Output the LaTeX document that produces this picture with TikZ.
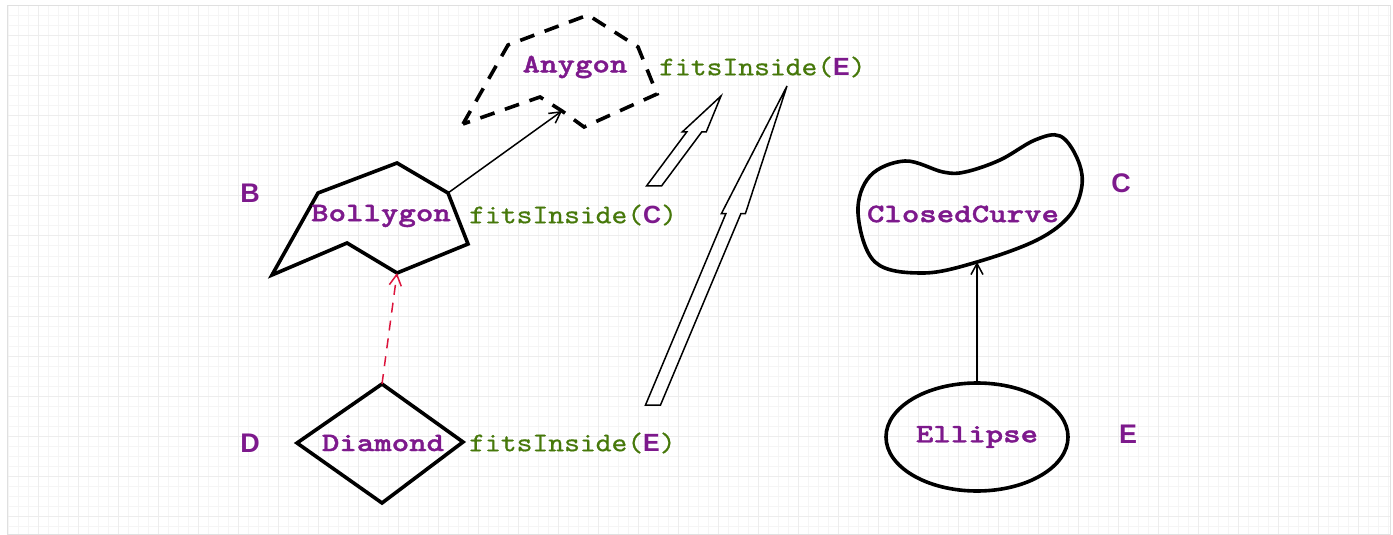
\documentclass[tikz,border=0pt]{standalone}
\usepackage{fontspec}
\usetikzlibrary{arrows.meta,calc,shapes.geometric}
\newfontfamily\labfont[FakeStretch=1.25,FakeBold=1.5]{lmmonolt10-bold.otf}
\newfontfamily\fitfont[FakeStretch=1.12,FakeBold=0.6]{lmmono10-regular.otf}
\newfontfamily\sansfont{Liberation Sans}
\definecolor{purp}{RGB}{125,25,140}
\definecolor{grn}{RGB}{70,120,10}
\definecolor{crim}{RGB}{220,20,60}
\newcommand\fitsin[1]{fitsInside({\sansfont\bfseries\fontsize{25}{28}\selectfont\color{purp}#1})}
\newcommand\hollowarr[2]{%
  \draw[hollowst] ($(#1)+(-7.5,0)$) -- ($(#1)!0.6!(#2)+(-7.5,0)$) -- ($(#1)!0.6!(#2)+(-12,0)$) -- (#2)
    -- ($(#1)!0.6!(#2)+(12,0)$) -- ($(#1)!0.6!(#2)+(7.5,0)$) -- ($(#1)+(7.5,0)$) -- cycle;}
\tikzset{
  gridminor/.style={line width=1bp, black!4},
  gridmajor/.style={line width=1bp, black!7},
  lab/.style={text=purp, font=\labfont\fontsize{26.7}{30}\selectfont, inner sep=0},
  fitlab/.style={text=grn, font=\fitfont\fontsize{27}{30}\selectfont, inner sep=0, anchor=west},
  letter/.style={text=purp, font=\sansfont\bfseries\fontsize{27}{30}\selectfont, inner sep=0},
  shapeline/.style={line width=3.6bp, black},
  conn/.style={line width=1.5bp, black, -{Straight Barb[length=11bp,width=12bp]}},
  redconn/.style={line width=1.5bp, crim, dash pattern=on 10bp off 8bp, -{Straight Barb[length=11bp,width=12bp]}},
  hollowst/.style={line width=1.5bp, black, line join=miter},
}
\begin{document}
\begin{tikzpicture}[x=1bp,y=-1bp]
\useasboundingbox (0,0) rectangle (1393,535);
% background grid
\foreach \x in {8,18,...,1388} \draw[gridminor] (\x,6) -- (\x,534);
\foreach \y in {6,16,...,526} \draw[gridminor] (7,\y) -- (1390,\y);
\foreach \x in {38,78,...,1388} \draw[gridmajor] (\x,6) -- (\x,534);
\foreach \y in {36,76,...,526} \draw[gridmajor] (7,\y) -- (1390,\y);
\draw[line width=1bp, black!12] (7,6) rectangle (1390,534);

% Anygon
\coordinate (a1) at (463,124);
\coordinate (a2) at (508,45);
\coordinate (a3) at (588,15);
\coordinate (a4) at (638,47);
\coordinate (a5) at (657,94);
\coordinate (a6) at (584,127);
\coordinate (adip) at (562,111);
\coordinate (a8) at (540,97);
\draw[shapeline, dash pattern=on 15bp off 11bp] (a1) -- (a2) -- (a3) -- (a4) -- (a5) -- (a6) -- (adip) -- (a8) -- cycle;
\node[lab] (anygon) at (575,67) {Anygon};
\node[fitlab] (fitA) at (659,67) {\fitsin{E}};

% Bollygon
\coordinate (b1) at (318,193);
\coordinate (b2) at (397,163);
\coordinate (bne) at (448,193);
\coordinate (b4) at (468,244);
\coordinate (bbot) at (397,273);
\coordinate (b6) at (347,243);
\coordinate (b7) at (272,275);
\draw[shapeline] (b1) -- (b2) -- (bne) -- (b4) -- (bbot) -- (b6) -- (b7) -- cycle;
\node[lab] (bolly) at (381,216) {Bollygon};
\node[fitlab] (fitB) at (469,215) {\fitsin{C}};
\node[letter] (B) at (250,193) {B};

% Diamond
\coordinate (dtop) at (382,384);
\coordinate (dr) at (463,442);
\coordinate (db) at (382,503);
\coordinate (dl) at (297,443);
\draw[shapeline] (dtop) -- (dr) -- (db) -- (dl) -- cycle;
\node[lab] (diamond) at (383,443) {Diamond};
\node[fitlab] (fitD) at (469,443) {\fitsin{E}};
\node[letter] (D) at (250,443) {D};

% ClosedCurve
\draw[shapeline] plot[smooth cycle, tension=0.6] coordinates {(858,213) (870,176) (905,161) (943,172) (965,172) (1000,160) (1035,140) (1060,136) (1077,158) (1082,185) (1070,215) (1037,240) (977,262) (923,273) (875,262)};
\coordinate (ccbot) at (977,262);
\node[lab] (closed) at (963,214) {ClosedCurve};
\node[letter] (C) at (1121,183) {C};

% Ellipse
\node[lab, ellipse, draw, line width=3.6bp, minimum width=182bp, minimum height=108bp] (ellipse) at (977,437) {Ellipse};
\node[letter] (E) at (1128,434) {E};

% connectors
\draw[conn] (bne) -- (adip);
\draw[redconn] (dtop) -- (bbot);
\draw[conn] (ellipse.north) -- (ccbot);

% hollow arrows
\coordinate (h1s) at (654,186);
\coordinate (h1t) at (721,96);
\coordinate (h2s) at (653,405);
\coordinate (h2t) at (787,86);
\hollowarr{h1s}{h1t}
\hollowarr{h2s}{h2t}
\end{tikzpicture}
\end{document}
